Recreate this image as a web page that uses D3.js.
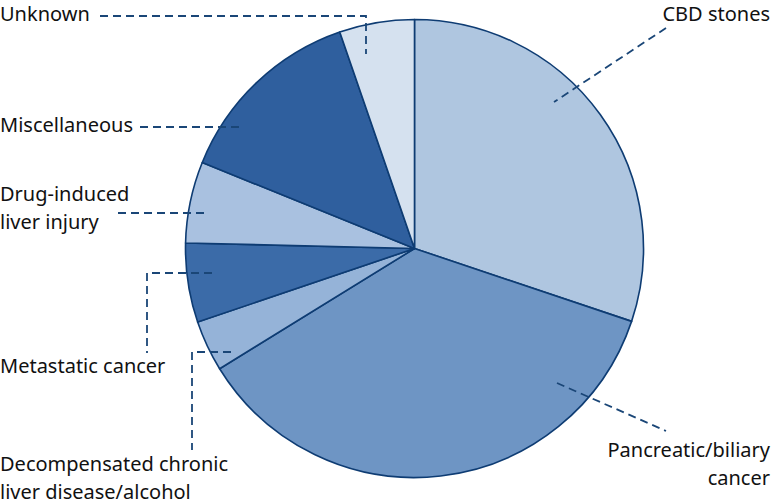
<html>
<head>
	<script src="https://d3js.org/d3.v7.min.js"></script>
	<style>
		body { margin: 0; background: #fff; }
	</style>
</head>
<body>
<script>

// data, clockwise from 12 o'clock
let categories = ["CBD stones", "Pancreatic/biliary cancer", "Decompensated chronic liver disease/alcohol",
	"Metastatic cancer", "Drug-induced liver injury", "Miscellaneous", "Unknown"];
let percents = [30.2, 36.1, 3.6, 5.6, 5.75, 13.6, 5.3];
let labelLines = [["CBD stones"], ["Pancreatic/biliary", "cancer"], ["Decompensated chronic", "liver disease/alcohol"],
	["Metastatic cancer"], ["Drug-induced", "liver injury"], ["Miscellaneous"], ["Unknown"]];

let colors = ["#afc6e0", "#6e95c4", "#95b3d8", "#3b6ba8", "#a9c1e0", "#2f5f9e", "#d5e1ef"];

let canvasW = 773;
let canvasH = 504;
let cx = 414.5, cy = 248.5, radius = 229;

// label placement: text anchor, x, first baseline, leader polyline (page coords)
let layout = [
	{anchor: "end", x: 770, y: 21, pts: [[666, 28], [554, 102]]},
	{anchor: "end", x: 770, y: 457, pts: [[557, 383], [666, 431]]},
	{anchor: "start", x: 0, y: 471, pts: [[231, 352], [192, 352], [192, 450]]},
	{anchor: "start", x: 0, y: 373, pts: [[212, 273], [147, 273], [147, 353]]},
	{anchor: "start", x: 0, y: 201, pts: [[118, 213], [209, 213]]},
	{anchor: "start", x: 0, y: 132, pts: [[140, 127], [242, 127]]},
	{anchor: "start", x: 0, y: 21, pts: [[100, 16], [366, 16], [366, 54]]}
];

let svg = d3.select("body").append("svg")
	.attr("width", canvasW)
	.attr("height", canvasH);

let pie = d3.pie().sort(null).value(d => d)(percents);
let arc = d3.arc().innerRadius(0).outerRadius(radius);

let g = svg.append("g").attr("transform", `translate(${cx},${cy})`);

g.selectAll("path")
	.data(pie)
	.enter()
	.append("path")
	.attr("d", arc)
	.attr("fill", (d, i) => colors[i])
	.attr("stroke", "#0e3c73")
	.attr("stroke-width", 1.6)
	.attr("stroke-linejoin", "round");

// leader lines
svg.selectAll(".leader")
	.data(layout)
	.enter()
	.append("polyline")
	.attr("class", "leader")
	.attr("points", d => d.pts.map(p => p.join(",")).join(" "))
	.attr("fill", "none")
	.attr("stroke", "#1a4677")
	.attr("stroke-width", 1.8)
	.attr("stroke-dasharray", "8,5");

// labels
layout.forEach((l, i) => {
	let t = svg.append("text")
		.attr("text-anchor", l.anchor)
		.attr("font-family", "Noto Sans, sans-serif")
		.attr("font-size", "20px")
		.attr("fill", "#111");
	labelLines[i].forEach((line, j) => {
		t.append("tspan")
			.attr("x", l.x)
			.attr("y", l.y + j * 28)
			.text(line);
	});
});

</script>
</body>
</html>
